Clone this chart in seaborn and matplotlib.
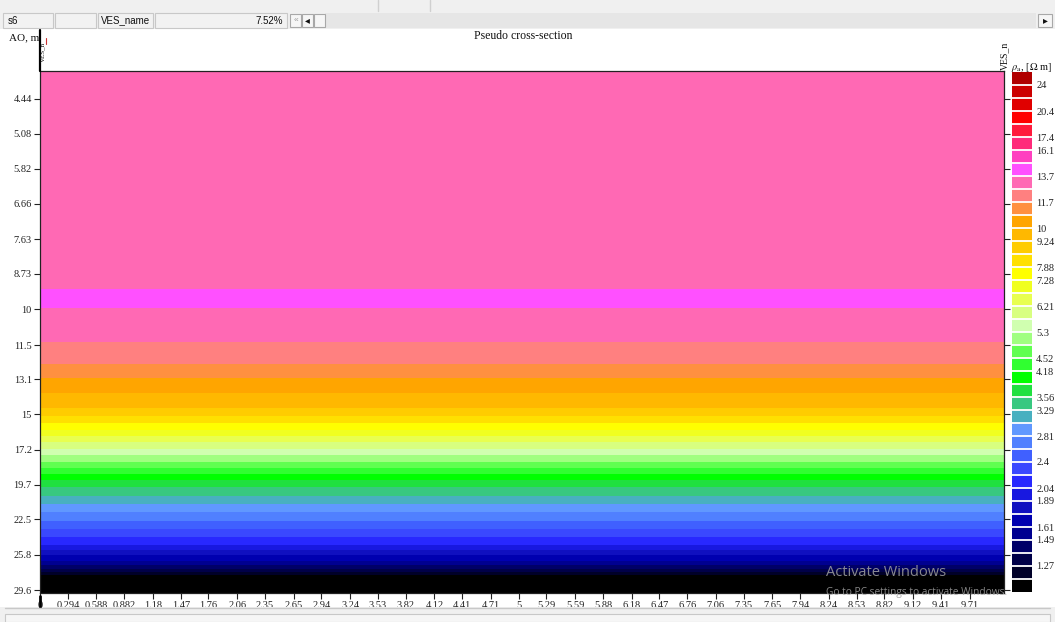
import numpy as np
import matplotlib
matplotlib.use("Agg")
import matplotlib.pyplot as plt
from matplotlib.colors import ListedColormap, BoundaryNorm
from matplotlib.patches import Rectangle
from matplotlib.lines import Line2D
import seaborn as sns

# ---- sounding data: apparent-resistivity bands from shallow to deep ----
# top edge of each band (AO, m) and its apparent resistivity (Ohm m)
band_top_ao = [3.99, 9.27, 9.97, 11.32, 12.33, 13.01, 13.79, 14.61, 15.07,
               15.48, 15.90, 16.27, 16.65, 17.11, 17.51, 17.99, 18.41, 18.84,
               19.35, 19.88, 20.58, 21.23, 21.89, 22.67, 23.38, 24.11, 24.86,
               25.35, 25.84, 26.44, 26.85, 27.27, 27.59, 27.91]
band_rho = [13.2, 14.3, 13.2, 12.2, 11.3, 10.4, 9.6, 8.9, 8.2, 7.6, 7.0,
            6.5, 6.0, 5.5, 5.1, 4.7, 4.35, 4.0, 3.7, 3.42, 3.16, 2.92, 2.7,
            2.5, 2.3, 2.12, 1.96, 1.81, 1.67, 1.55, 1.43, 1.32, 1.22, 1.12]
ao_bottom = 29.9

# profile distance
x_max = 10.07
x_tick_labels = ["0", "0.294", "0.588", "0.882", "1.18", "1.47", "1.76",
                 "2.06", "2.35", "2.65", "2.94", "3.24", "3.53", "3.82",
                 "4.12", "4.41", "4.71", "5", "5.29", "5.59", "5.88", "6.18",
                 "6.47", "6.76", "7.06", "7.35", "7.65", "7.94", "8.24",
                 "8.53", "8.82", "9.12", "9.41", "9.71"]

# AO axis labels
y_tick_labels = ["4.44", "5.08", "5.82", "6.66", "7.63", "8.73", "10",
                 "11.5", "13.1", "15", "17.2", "19.7", "22.5", "25.8", "29.6"]

# resistivity scale: labelled levels and the 40 class colours (high -> low)
cbar_tick_values = [24, 20.4, 17.4, 16.1, 13.7, 11.7, 10, 9.24, 7.88, 7.28,
                    6.21, 5.3, 4.52, 4.18, 3.56, 3.29, 2.81, 2.4, 2.04, 1.89,
                    1.61, 1.49, 1.27]
class_colors = ["#B00000", "#CC0000", "#E00000", "#FF0000", "#FF1A3C",
                "#FF2A7A", "#FF40C0", "#FF50FF", "#FF69B4", "#FF8080",
                "#FF9040", "#FFA500", "#FFB800", "#FFCC00", "#FFE000",
                "#FFFF00", "#F0FF20", "#E8FF50", "#D8FF80", "#D0FFB0",
                "#A0FF80", "#60FF50", "#30FF30", "#00FF00", "#20E040",
                "#38C880", "#48B0C0", "#6098FF", "#5080FF", "#4060FF",
                "#3A48FF", "#2828FF", "#1818E0", "#1010C0", "#0000B0",
                "#000090", "#000068", "#000048", "#000028", "#000000"]

# ---- style ----
sns.set_style("white")
plt.rcParams["font.family"] = ["Liberation Serif", "DejaVu Serif"]
plt.rcParams["mathtext.fontset"] = "stix"

W, H = 1055, 622
fig = plt.figure(figsize=(W / 100, H / 100), dpi=100)
fig.patch.set_facecolor("white")


def fx(x):
    return x / W


def fy(y):
    return 1 - y / H


def rect(x0, y0, x1, y1, **kw):
    fig.add_artist(Rectangle((fx(x0), fy(y1)), (x1 - x0) / W, (y1 - y0) / H,
                             transform=fig.transFigure, **kw))


# ---- class boundaries: 40 equal steps on a log scale ----
step = (24 / 1.27) ** (1 / 37)
bounds = (24 * step ** (1 - np.arange(41)))[::-1]
cmap = ListedColormap(class_colors[::-1])
norm = BoundaryNorm(bounds, cmap.N)

# ---- raster of the section (each column is the same sounding) ----
n_rows = 521
log_top, log_bot = np.log10(band_top_ao[0]), np.log10(ao_bottom)
row_edges = np.linspace(log_top, log_bot, n_rows + 1)
row_mid = 10 ** (0.5 * (row_edges[:-1] + row_edges[1:]))
idx = np.searchsorted(band_top_ao, row_mid, side="right") - 1
grid = np.asarray(band_rho)[idx][:, None]

ax = fig.add_axes([fx(40), fy(593), (1004 - 40) / W, (593 - 71) / H])
cax = fig.add_axes([fx(1012), fy(592), 20 / W, 520 / H])

sns.heatmap(grid, cmap=cmap, norm=norm, ax=ax, cbar_ax=cax,
            xticklabels=False, yticklabels=False,
            cbar_kws=dict(drawedges=True, ticks=cbar_tick_values))

# axis ticks placed through the log-AO and distance mappings
y_vals = [float(t) for t in y_tick_labels]
y_pos = [(np.log10(v) - log_top) / (log_bot - log_top) * n_rows for v in y_vals]
ax.set_yticks(y_pos)
ax.set_yticklabels(y_tick_labels, rotation=0)
x_vals = [float(t) for t in x_tick_labels]
ax.set_xticks([v / x_max for v in x_vals])
ax.set_xticklabels(x_tick_labels, rotation=0)

ax.tick_params(axis="both", which="major", direction="out", length=4,
               width=0.8, color="#222222", labelsize=7.5, pad=2,
               labelcolor="#222222", bottom=True, left=True, right=True,
               labelright=False)
for side in ["left", "right", "top", "bottom"]:
    ax.spines[side].set_visible(True)
    ax.spines[side].set_color("#222222")
    ax.spines[side].set_linewidth(0.9)

cbar = ax.collections[0].colorbar
cbar.dividers.set_color("white")
cbar.dividers.set_linewidth(1.3)
cbar.outline.set_visible(False)
cbar.ax.minorticks_off()
cbar.ax.set_yticklabels([f"{v:g}" for v in cbar_tick_values])
cbar.ax.tick_params(which="both", length=0, width=0, labelsize=7.5, pad=3,
                    labelcolor="#222222")

# ---- titles and axis names ----
fig.text(fx(523), fy(36), "Pseudo cross-section", ha="center", va="center",
         fontsize=8.5, color="#111111")
fig.text(fx(9), fy(38), "AO, m", ha="left", va="center", fontsize=8,
         color="#111111")
fig.text(fx(1011), fy(67), r"$\rho_{\rm a}$, [$\Omega$ m]", ha="left",
         va="center", fontsize=7.5, color="#111111")

# station markers and names at the ends of the profile
fig.add_artist(Line2D([fx(40), fx(40)], [fy(30), fy(71)], color="black",
                      lw=1.6, transform=fig.transFigure))
fig.text(fx(42.5), fy(52), "VES_n", rotation=90, ha="center", va="center",
         fontsize=5, color="#111111")
fig.add_artist(Line2D([fx(45.5), fx(45.5)], [fy(38), fy(44)], color="#cc3333",
                      lw=0.8, transform=fig.transFigure))
fig.text(fx(1005), fy(56), "VES_n", rotation=90, ha="center", va="center",
         fontsize=7, color="#111111")
fig.add_artist(Line2D([fx(40), fx(40)], [fy(596), fy(607)], color="black",
                      lw=2, transform=fig.transFigure))

# ---- window frame: tool strip, status bar and scroll bar ----
rect(0, 0, 1055, 12, facecolor="#F0F0F0", edgecolor="none")
for xs in [378, 430]:
    fig.add_artist(Line2D([fx(xs), fx(xs)], [fy(0), fy(11)], color="#D0D0D0",
                          lw=1, transform=fig.transFigure))
rect(0, 12, 1055, 29, facecolor="#F0F0F0", edgecolor="none")
rect(325, 13, 1036, 28, facecolor="#E6E6E6", edgecolor="none")
for x0, x1 in [(3, 53), (55, 96), (98, 153), (155, 287)]:
    rect(x0, 13, x1, 28, facecolor="#F2F2F2", edgecolor="#C8C8C8", lw=0.8)
for x0, x1 in [(290, 301), (302, 313), (314, 325), (1038, 1052)]:
    rect(x0, 14, x1, 27, facecolor="#F6F6F6", edgecolor="#A8A8A8", lw=0.8)
sans = ["Liberation Sans", "DejaVu Sans"]
fig.text(fx(8), fy(20.5), "s6", ha="left", va="center", fontsize=7,
         family=sans, color="#111111")
fig.text(fx(150), fy(20.5), "VES_name", ha="right", va="center", fontsize=7,
         family=sans, color="#111111")
fig.text(fx(283), fy(20.5), "7.52%", ha="right", va="center", fontsize=7,
         family=sans, color="#111111")
fig.text(fx(295.5), fy(20.5), "«", ha="center", va="center", fontsize=6,
         family=sans, color="#999999")
fig.text(fx(307.5), fy(20.5), "◂", ha="center", va="center", fontsize=7,
         family=["DejaVu Sans"], color="#111111")
fig.text(fx(1045), fy(20.5), "▸", ha="center", va="center", fontsize=7,
         family=["DejaVu Sans"], color="#111111")

rect(0, 607, 1055, 622, facecolor="#F0F0F0", edgecolor="none")
fig.add_artist(Line2D([fx(5), fx(1050)], [fy(608), fy(608)], color="#C8C8C8",
                      lw=1, transform=fig.transFigure))
rect(5, 614, 1050, 622, facecolor="#F6F6F6", edgecolor="#C8C8C8", lw=0.8)

# system notice overlay
fig.text(fx(826), fy(573), "Activate Windows", ha="left", va="center",
         fontsize=10.5, family=["Open Sans", "DejaVu Sans"], color="#A0A0A0",
         alpha=0.85)
fig.text(fx(826), fy(593), "Go to PC settings to activate Windows.",
         ha="left", va="center", fontsize=7.3,
         family=["Open Sans", "DejaVu Sans"], color="#A0A0A0", alpha=0.85)

fig.savefig("out.png", dpi=100, facecolor="white")
